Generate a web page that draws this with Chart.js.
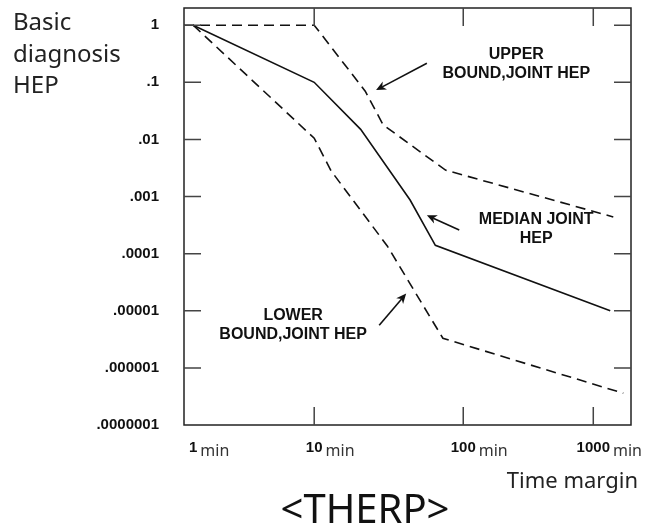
<!DOCTYPE html>
<html><head><meta charset="utf-8">
<script src="https://cdn.jsdelivr.net/npm/chart.js@4.4.1/dist/chart.umd.min.js"></script>
<style>html,body{margin:0;padding:0;background:#fff}#wrap{width:650px;height:529px;position:relative}</style>
</head><body><div id="wrap"><canvas id="c"></canvas></div>
<script>
// ---- data ----
const xTickValues = [1, 10, 100, 1000];
const xTickLabels = ['1', '10', '100', '1000'];
const xTickUnit = 'min';
const yTickValues = [1, 0.1, 0.01, 0.001, 0.0001, 0.00001, 0.000001, 0.0000001];
const yTickLabels = ['1', '.1', '.01', '.001', '.0001', '.00001', '.000001', '.0000001'];

const medianX = [1, 10, 20.5, 44, 65, 1350];
const medianY = [1, 0.1, 0.015, 0.00087, 0.00014, 0.00001];
const upperX  = [0.84, 10, 22, 29, 76, 1425];
const upperY  = [1, 1, 0.07, 0.018, 0.0029, 0.00044];
const lowerX  = [1, 10, 13, 31, 73, 1700];
const lowerY  = [1, 0.0105, 0.0028, 0.000135, 0.0000033, 0.00000036];

const annUpperText  = ['UPPER', 'BOUND,JOINT HEP'];
const annUpperAt    = [256, 0.31];
const annUpperArrow = [[57, 0.216], [26, 0.073]];
const annMedianText  = ['MEDIAN JOINT', 'HEP'];
const annMedianAt    = [364, 0.00039];
const annMedianArrow = [[94, 0.00026], [57, 0.00047]];
const annLowerText  = ['LOWER', 'BOUND,JOINT HEP'];
const annLowerAt    = [6.7, 0.0000084];
const annLowerArrow = [[27.3, 0.0000056], [41.4, 0.00002]];

const yTitleLines = ['Basic', 'diagnosis', 'HEP'];
const xTitle = 'Time margin';
const chartTitle = '<THERP>';

const xMin = 0.84, xMax = 1950, yMin = 1e-7, yMax = 2;
// relative widths of each decade on the hand-drawn time axis
const decadeWidths = { '-1': 121, '0': 121, '1': 149, '2': 130, '3': 130 };

// ---- warped log scale (uneven decades as in the original drawing) ----
function w(d) { return decadeWidths[d] !== undefined ? decadeWidths[d] : 130; }
function cum(L) {
  let s = 0, d = 0;
  if (L >= 0) { while (d + 1 <= L) { s += w(d); d++; } return s + (L - d) * w(d); }
  while (d - 1 >= L) { d--; s -= w(d); }
  return s - (d - L) * w(d - 1);
}
function invCum(s) {
  let d = 0;
  if (s >= 0) { while (s >= w(d)) { s -= w(d); d++; } return d + s / w(d); }
  while (-s >= w(d - 1)) { s += w(d - 1); d--; }
  return d + s / w(d - 1);
}
class WarpedLogScale extends Chart.LogarithmicScale {
  getPixelForValue(value) {
    if (value === undefined || value === null || isNaN(value) || value <= 0) return NaN;
    const a = cum(Math.log10(this.min)), b = cum(Math.log10(this.max));
    return this.getPixelForDecimal((cum(Math.log10(value)) - a) / (b - a));
  }
  getValueForPixel(pixel) {
    const a = cum(Math.log10(this.min)), b = cum(Math.log10(this.max));
    return Math.pow(10, invCum(a + this.getDecimalForPixel(pixel) * (b - a)));
  }
}
WarpedLogScale.id = 'warpedLog';
WarpedLogScale.defaults = Chart.LogarithmicScale.defaults;
Chart.register(WarpedLogScale);

function pts(xs, ys) { return xs.map((x, i) => ({ x: x, y: ys[i] })); }

function drawArrow(ctx, x0, y0, x1, y1) {
  const ang = Math.atan2(y1 - y0, x1 - x0), L = 10, H = 4.5;
  ctx.beginPath(); ctx.moveTo(x0, y0);
  ctx.lineTo(x1 - Math.cos(ang) * L * 0.7, y1 - Math.sin(ang) * L * 0.7); ctx.stroke();
  ctx.beginPath(); ctx.moveTo(x1, y1);
  ctx.lineTo(x1 - Math.cos(ang) * L + Math.sin(ang) * H, y1 - Math.sin(ang) * L - Math.cos(ang) * H);
  ctx.lineTo(x1 - Math.cos(ang) * L * 0.7, y1 - Math.sin(ang) * L * 0.7);
  ctx.lineTo(x1 - Math.cos(ang) * L - Math.sin(ang) * H, y1 - Math.sin(ang) * L + Math.cos(ang) * H);
  ctx.closePath(); ctx.fill();
}

const decor = {
  id: 'decor',
  afterDatasetsDraw(chart) {
    const ctx = chart.ctx, a = chart.chartArea, x = chart.scales.x, y = chart.scales.y;
    ctx.save();
    // frame
    ctx.strokeStyle = '#222'; ctx.lineWidth = 1.5;
    ctx.strokeRect(a.left, a.top, a.right - a.left, a.bottom - a.top);
    // inward tick marks on all four sides
    const TL = 17, near = 12;
    ctx.strokeStyle = '#444'; ctx.lineWidth = 1.5; ctx.beginPath();
    y.ticks.forEach(t => {
      const p = y.getPixelForValue(t.value);
      if (p - a.top < near || a.bottom - p < near) return;
      ctx.moveTo(a.left, p); ctx.lineTo(a.left + TL, p);
      ctx.moveTo(a.right, p); ctx.lineTo(a.right - TL, p);
    });
    x.ticks.forEach(t => {
      const p = x.getPixelForValue(t.value);
      if (p - a.left < near || a.right - p < near) return;
      ctx.moveTo(p, a.bottom); ctx.lineTo(p, a.bottom - TL - 1);
      ctx.moveTo(p, a.top); ctx.lineTo(p, a.top + TL + 1);
    });
    ctx.stroke();

    // annotations
    ctx.fillStyle = '#111'; ctx.strokeStyle = '#111'; ctx.lineWidth = 1.6;
    [[annUpperText, annUpperAt, annUpperArrow],
     [annMedianText, annMedianAt, annMedianArrow],
     [annLowerText, annLowerAt, annLowerArrow]].forEach(([txt, at, arr]) => {
      drawArrow(ctx, x.getPixelForValue(arr[0][0]), y.getPixelForValue(arr[0][1]),
                     x.getPixelForValue(arr[1][0]), y.getPixelForValue(arr[1][1]));
      ctx.font = 'bold 16px "Liberation Sans", Arial, sans-serif';
      ctx.textAlign = 'center'; ctx.textBaseline = 'middle';
      const cx = x.getPixelForValue(at[0]), cy = y.getPixelForValue(at[1]);
      txt.forEach((s, i) => ctx.fillText(s, cx, cy + i * 19));
    });

    // x tick labels: bold number + "min"
    ctx.textBaseline = 'alphabetic'; ctx.textAlign = 'left';
    xTickValues.forEach((v, i) => {
      const p = x.getPixelForValue(v);
      ctx.font = 'bold 15px "Liberation Sans", Arial, sans-serif';
      ctx.fillStyle = '#111';
      const wN = ctx.measureText(xTickLabels[i]).width;
      ctx.fillText(xTickLabels[i], p - wN / 2, a.bottom + 27);
      ctx.font = '16px "Noto Sans", sans-serif';
      ctx.fillStyle = '#333';
      ctx.fillText(xTickUnit, p + wN / 2 + 3, a.bottom + 31);
    });

    // axis titles and chart title
    ctx.fillStyle = '#222';
    ctx.font = '22px "Noto Sans", sans-serif'; ctx.textAlign = 'right';
    ctx.fillText(xTitle, chart.width - 12, a.bottom + 63);
    ctx.font = '24px "Noto Sans", sans-serif'; ctx.textAlign = 'left';
    yTitleLines.forEach((s, i) => ctx.fillText(s, 13, 30 + i * 31.5));
    ctx.font = '40px "Noto Sans", sans-serif'; ctx.textAlign = 'center';
    ctx.fillStyle = '#111';
    ctx.fillText(chartTitle, 365, chart.height - 6);
    ctx.restore();
  }
};

const lineStyle = { borderColor: '#111', borderWidth: 1.6, pointRadius: 0, fill: false, tension: 0 };
new Chart(document.getElementById('c'), {
  type: 'line',
  data: {
    datasets: [
      Object.assign({ label: 'Upper bound, joint HEP', data: pts(upperX, upperY), borderDash: [10, 6] }, lineStyle),
      Object.assign({ label: 'Median joint HEP', data: pts(medianX, medianY) }, lineStyle),
      Object.assign({ label: 'Lower bound, joint HEP', data: pts(lowerX, lowerY), borderDash: [10, 6] }, lineStyle)
    ]
  },
  options: {
    responsive: true, maintainAspectRatio: false, animation: false, events: [],
    layout: { padding: { top: 8, right: 19, left: 0, bottom: 0 } },
    plugins: { legend: { display: false }, tooltip: { enabled: false }, title: { display: false } },
    scales: {
      x: {
        type: 'warpedLog', min: xMin, max: xMax, bounds: 'data',
        grid: { display: false, drawTicks: false }, border: { display: false },
        ticks: { display: false },
        afterBuildTicks: s => { s.ticks = xTickValues.map(v => ({ value: v })); },
        afterFit: s => { s.height = 104; s.paddingLeft = 0; s.paddingRight = 0; }
      },
      y: {
        type: 'logarithmic', min: yMin, max: yMax, bounds: 'data',
        grid: { display: false, drawTicks: false }, border: { display: false },
        ticks: {
          padding: 25, color: '#111', autoSkip: false,
          font: { family: '"Liberation Sans", Arial, sans-serif', weight: 'bold', size: 15 },
          callback: (v, i) => yTickLabels[i]
        },
        afterBuildTicks: s => { s.ticks = yTickValues.map(v => ({ value: v })); },
        afterFit: s => { s.width = 184; s.paddingTop = 0; s.paddingBottom = 0; }
      }
    }
  },
  plugins: [decor]
});
</script>
</body></html>
